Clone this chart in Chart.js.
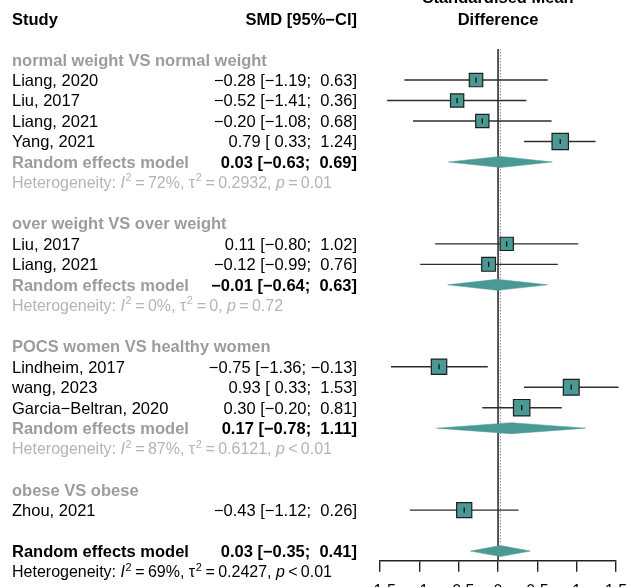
<!DOCTYPE html>
<html><head><meta charset="utf-8">
<script src="https://cdn.jsdelivr.net/npm/chart.js@4.4.0/dist/chart.umd.min.js"></script>
<style>
html,body{margin:0;padding:0;overflow:hidden;background:#fff;width:628px;height:587px}
#wrap{position:absolute;left:0;top:0;width:628px;height:610px}
</style>
</head><body><div id="wrap"><canvas id="c" width="628" height="610"></canvas></div>
<script>
// ---------- data ----------
const groupNames = ['normal weight VS normal weight', 'over weight VS over weight', 'POCS women VS healthy women', 'obese VS obese'];
const studyLabels = ['Liang, 2020', 'Liu, 2017', 'Liang, 2021', 'Yang, 2021', 'Liu, 2017', 'Liang, 2021', 'Lindheim, 2017', 'wang, 2023', 'Garcia\u2212Beltran, 2020', 'Zhou, 2021'];
const studyGroup = [0, 0, 0, 0, 1, 1, 2, 2, 2, 3];
const studySMD   = [-0.28, -0.52, -0.20, 0.79, 0.11, -0.12, -0.75, 0.93, 0.30, -0.43];
const studyLower = [-1.19, -1.41, -1.08, 0.33, -0.80, -0.99, -1.36, 0.33, -0.20, -1.12];
const studyUpper = [0.63, 0.36, 0.68, 1.24, 1.02, 0.76, -0.13, 1.53, 0.81, 0.26];
const studyWeight = [8.5, 8.3, 8.3, 12.7, 8.3, 9.0, 11.2, 11.8, 12.7, 10.8];
const groupSMD   = [0.03, -0.01, 0.17, null];
const groupLower = [-0.63, -0.64, -0.78, null];
const groupUpper = [0.69, 0.63, 1.11, null];
const groupI2    = ['72%', '0%', '87%', null];
const groupTau2  = ['0.2932', '0', '0.6121', null];
const groupP     = ['= 0.01', '= 0.72', '< 0.01', null];
const overallSMD = 0.03, overallLower = -0.35, overallUpper = 0.41;
const overallI2 = '69%', overallTau2 = '0.2427', overallP = '< 0.01';
const xTicks = [-1.5, -1, -0.5, 0, 0.5, 1, 1.5];

// ---------- layout (rows) ----------
const Y_MIN = 1.484, Y_MAX = 26.47;
const studyRow = [];
const rows = [];
let r = 2;
groupNames.forEach((g, gi) => {
  rows.push({type: 'group', row: r++, gi});
  studyLabels.forEach((s, si) => {
    if (studyGroup[si] === gi) { studyRow[si] = r; rows.push({type: 'study', row: r, si}); r++; }
  });
  if (groupSMD[gi] !== null) {
    rows.push({type: 'model', row: r++, gi});
    rows.push({type: 'het', row: r++, gi});
  }
  r++;
});
const overallRow = r, overallHetRow = r + 1;

const TEAL = 'rgb(74,153,149)';
const FONT = '"Liberation Sans", Arial, Helvetica, sans-serif';
const FS = 16.5;
const HFS = 16;
const DH = 0.27; // diamond half height in rows

const fmt = v => (v < 0 ? '\u2212' : '') + Math.abs(v).toFixed(2);
const ciText = (e, lo, hi) => fmt(e) + ' [' + (lo < 0 ? '' : ' ') + fmt(lo) + ';' + (hi < 0 ? ' ' : '  ') + fmt(hi) + ']';

// ---------- datasets ----------
const datasets = [];
datasets.push({data: [{x: 0, y: Y_MIN}, {x: 0, y: Y_MAX}], borderColor: '#3c3c3c', borderWidth: 1.7, pointRadius: 0, order: 10, clip: false});
datasets.push({data: [{x: overallSMD, y: Y_MIN}, {x: overallSMD, y: overallRow - 0.33}], borderColor: '#8a8a8a', borderWidth: 1, borderDash: [1.5, 1.5], pointRadius: 0, order: 9, clip: false});
studySMD.forEach((e, i) => {
  datasets.push({data: [{x: studyLower[i], y: studyRow[i]}, {x: studyUpper[i], y: studyRow[i]}], borderColor: '#2e2e2e', borderWidth: 1.4, pointRadius: 0, order: 5, clip: false});
});
const diamond = (e, lo, hi, row) => ({
  data: [{x: lo, y: row}, {x: e, y: row - DH}, {x: hi, y: row}, {x: e, y: row + DH}, {x: lo, y: row}],
  borderColor: TEAL, borderWidth: 0.5, backgroundColor: TEAL, fill: 'shape', pointRadius: 0, tension: 0, order: 4, clip: false
});
rows.filter(o => o.type === 'model').forEach(o => datasets.push(diamond(groupSMD[o.gi], groupLower[o.gi], groupUpper[o.gi], o.row)));
datasets.push(diamond(overallSMD, overallLower, overallUpper, overallRow));
datasets.push({
  data: studySMD.map((e, i) => ({x: e, y: studyRow[i]})),
  showLine: false, pointStyle: 'rect',
  pointRadius: studyWeight.map(w => 4.6 * Math.sqrt(w) / 1.4142),
  pointBackgroundColor: TEAL, pointBorderColor: '#1e1e1e', pointBorderWidth: 1.2, order: 2, clip: false
});
datasets.push({
  data: studySMD.map((e, i) => ({x: e, y: studyRow[i]})),
  showLine: false, pointStyle: 'line', pointRotation: 90, pointRadius: 2.6,
  pointBorderColor: '#111', pointBorderWidth: 1.3, order: 1, clip: false
});

// ---------- text plugin ----------
const textPlugin = {
  id: 'forestText',
  afterDraw(chart) {
    const ctx = chart.ctx;
    const yPx = v => chart.scales.y.getPixelForValue(v);
    const xC = chart.scales.x.getPixelForValue(0);
    const LX = 12, RX = 357;
    const put = (txt, x, row, opt) => {
      const size = opt.size || FS;
      ctx.font = (opt.italic ? 'italic ' : '') + (opt.bold ? 'bold ' : '') + size + 'px ' + FONT;
      ctx.fillStyle = opt.color || '#000';
      ctx.textAlign = opt.align || 'left';
      ctx.textBaseline = 'alphabetic';
      ctx.fillText(txt, x, yPx(row) + size * 0.36);
      return ctx.measureText(txt).width;
    };
    const het = (row, color, i2, tau2, p) => {
      const s = HFS;
      let x = LX;
      const seg = (t, o) => { const w = put(t, x, row, Object.assign({color, size: s}, o)); x += w; };
      const eq = t => { x += 3.3; seg(t); x += 3.3; };
      const sup = t => {
        ctx.font = (s * 0.68) + 'px ' + FONT; ctx.fillStyle = color; ctx.textAlign = 'left';
        ctx.fillText(t, x + 0.5, yPx(row) + s * 0.36 - s * 0.42);
        x += ctx.measureText(t).width + 1;
      };
      seg('Heterogeneity: ');
      seg('I', {italic: true}); sup('2'); eq('='); seg(i2 + ', ');
      seg('\u03c4'); sup('2'); eq('='); seg(tau2 + ', ');
      seg('p', {italic: true}); eq(p.charAt(0)); seg(p.slice(2));
    };
    ctx.save();
    put('Study', LX, 0, {bold: true});
    put('SMD [95%\u2212CI]', RX, 0, {bold: true, align: 'right'});
    put('Difference', xC, 0, {bold: true, align: 'center'});
    put('Standardised Mean', xC, -1.05, {bold: true, align: 'center'});
    rows.forEach(o => {
      if (o.type === 'group') put(groupNames[o.gi], LX, o.row, {bold: true, color: '#9c9c9c'});
      else if (o.type === 'study') {
        put(studyLabels[o.si], LX, o.row, {});
        put(ciText(studySMD[o.si], studyLower[o.si], studyUpper[o.si]), RX, o.row, {align: 'right'});
      } else if (o.type === 'model') {
        put('Random effects model', LX, o.row, {bold: true, color: '#9c9c9c'});
        put(ciText(groupSMD[o.gi], groupLower[o.gi], groupUpper[o.gi]), RX, o.row, {bold: true, align: 'right'});
      } else if (o.type === 'het') {
        het(o.row, '#b4b4b4', groupI2[o.gi], groupTau2[o.gi], groupP[o.gi]);
      }
    });
    put('Random effects model', LX, overallRow, {bold: true});
    put(ciText(overallSMD, overallLower, overallUpper), RX, overallRow, {bold: true, align: 'right'});
    het(overallHetRow, '#000', overallI2, overallTau2, overallP);
    ctx.restore();
  }
};

new Chart(document.getElementById('c'), {
  type: 'line',
  data: {datasets},
  options: {
    responsive: false, animation: false, events: [],
    layout: {padding: {left: 380, right: 11, top: 49, bottom: 0}},
    plugins: {legend: {display: false}, tooltip: {enabled: false}},
    scales: {
      x: {
        type: 'linear', min: -1.5, max: 1.5,
        afterBuildTicks: s => { s.ticks = xTicks.map(v => ({value: v})); },
        afterFit: s => { s.height = 610 - 560.7; s.paddingLeft = 0; s.paddingRight = 0; },
        ticks: {
          color: '#000', font: {family: FONT, size: 16}, padding: 10, maxRotation: 0, autoSkip: false,
          callback: v => (v < 0 ? '\u2212' : '') + Math.abs(v)
        },
        grid: {drawOnChartArea: false, drawTicks: true, tickLength: 11, color: '#222', lineWidth: 1.4},
        border: {display: true, color: '#222', width: 1.4}
      },
      y: {type: 'linear', display: false, reverse: true, min: Y_MIN, max: Y_MAX}
    }
  },
  plugins: [textPlugin]
});
</script>
</body></html>
